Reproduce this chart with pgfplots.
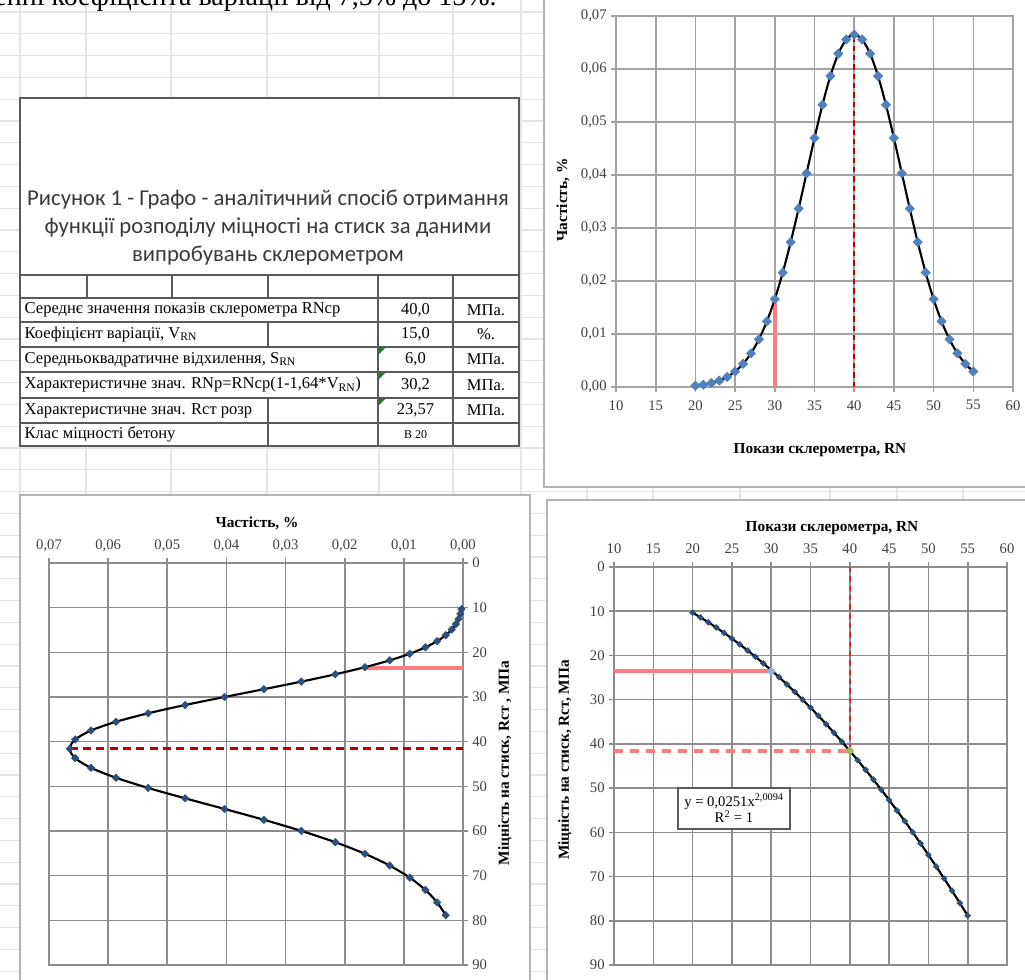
\documentclass[border=0pt]{standalone}
\usepackage{fontspec}
\setmainfont{Liberation Serif}
\newfontfamily\calibri{Carlito}
\usepackage{pgfplots}
\usepackage{pgfplotstable}
\pgfplotsset{compat=1.18}

\definecolor{exg}{HTML}{E4E4E4}
\definecolor{cbord}{HTML}{B4B4B4}
\definecolor{gridA}{HTML}{A3A3A3}
\definecolor{gridB}{HTML}{8C8C8C}
\definecolor{mblue}{HTML}{4F81BD}
\definecolor{dblue}{HTML}{2C4F7C}
\definecolor{salmon}{HTML}{FF7C80}
\definecolor{dred}{HTML}{C00000}
\definecolor{rred}{HTML}{E02828}
\definecolor{tline}{HTML}{5A5A5A}
\definecolor{ttl}{HTML}{3A3A3A}
\definecolor{tickc}{HTML}{404040}
\definecolor{xlgreen}{HTML}{1E7B1E}
\definecolor{lgreen}{HTML}{9BBB59}
\definecolor{lblue}{HTML}{8EB4E3}

\pgfplotstableread{
rn f r
20 0.000257 10.327
21 0.000442 11.390
22 0.000739 12.507
23 0.001201 13.675
24 0.001899 14.896
25 0.002921 16.169
26 0.004370 17.495
27 0.006358 18.874
28 0.008998 20.305
29 0.012385 21.788
30 0.016580 23.324
31 0.021586 24.913
32 0.027335 26.554
33 0.033666 28.247
34 0.040328 29.994
35 0.046985 31.792
36 0.053241 33.644
37 0.058678 35.548
38 0.062897 37.505
39 0.065573 39.515
40 0.066490 41.577
41 0.065573 43.692
42 0.062897 45.860
43 0.058678 48.080
44 0.053241 50.353
45 0.046985 52.679
46 0.040328 55.058
47 0.033666 57.489
48 0.027335 59.973
49 0.021586 62.511
50 0.016580 65.100
51 0.012385 67.743
52 0.008998 70.439
53 0.006358 73.187
54 0.004370 75.988
55 0.002921 78.842
}\data

\pgfplotsset{
  xlchart/.style={
    scale only axis, anchor=center,
    grid=major, scaled ticks=false,
    tick align=outside, major tick length=3.5pt,
    ticklabel style={font=\fontsize{11}{13}\selectfont, text=tickc},
    /pgf/number format/assume math mode=true,
    /pgf/number format/use comma,
    major grid style={#1, line width=1.2pt},
    axis line style={#1, line width=1.2pt},
    tick style={#1, line width=1.2pt},
  },
  freqlabels/.style={/pgf/number format/.cd, fixed, fixed zerofill, precision=2, use comma},
}

\begin{document}
\begin{tikzpicture}[x=0.75pt, y=-0.75pt]
\useasboundingbox (0,0) rectangle (1025,979);

% ---- Excel background grid
\foreach \k in {0,...,44} \draw[exg, line width=0.8pt] (0,{12+21.8*\k}) -- (1025,{12+21.8*\k});
\foreach \xx in {20,86,171,267,379,453,521,587,653,740,830,897,963} \draw[exg, line width=0.8pt] (\xx,0) -- (\xx,979);

% ---- cut text at very top (continuation of the page text)
\node[anchor=base east, inner sep=0pt, font=\fontsize{21}{24}\selectfont] at (497,5.5) {значенні коефіцієнта варіації від 7,5\% до 15\%.};

% ---- boxes
\draw[tline, line width=1.3pt, fill=white] (20,98) rectangle (519,446);
\draw[cbord, line width=1.5pt, fill=white] (544,-20) rectangle (1045,487);
\draw[cbord, line width=1.5pt, fill=white] (20,495) rectangle (530,1000);
\draw[cbord, line width=1.5pt, fill=white] (547,500) rectangle (1045,1000);

% ---- table
\begin{scope}[font=\calibri\fontsize{17}{20}\selectfont, text=ttl]
\node at (268,200) {Рисунок 1 - Графо - аналітичний спосіб отримання};
\node at (268,228) {функції розподілу міцності на стиск за даними};
\node at (268,256) {випробувань склерометром};
\end{scope}
\foreach \yy in {275,298,322,347,372,398,423} \draw[tline, line width=0.8pt] (20,\yy) -- (519,\yy);
\foreach \xx in {87,172,268} \draw[tline, line width=0.8pt] (\xx,275) -- (\xx,298);
\foreach \xx in {378,453} \draw[tline, line width=0.8pt] (\xx,275) -- (\xx,446);
\draw[tline, line width=0.8pt] (268,322) -- (268,347);
\draw[tline, line width=0.8pt] (268,398) -- (268,446);
\foreach \yy in {347,372,398} \fill[xlgreen] (379,{\yy+1}) -- (385,{\yy+1}) -- (379,{\yy+7}) -- cycle;
\begin{scope}[font=\fontsize{12.4}{14}\selectfont]
\node[anchor=west] at (20,310) {Середнє значення показів склерометра RNср};
\node[anchor=west] at (20,334.5) {Коефіцієнт варіації, V\textsubscript{RN}};
\node[anchor=west] at (20,359.5) {Середньоквадратичне відхилення, S\textsubscript{RN}};
\node[anchor=west] at (20,385) {Характеристичне знач. RNр=RNср(1-1,64*V\textsubscript{RN})};
\node[anchor=west] at (20,410.5) {Характеристичне знач. Rст розр};
\node[anchor=west] at (20,434.5) {Клас міцності бетону};
\node at (415.5,310) {40,0};
\node at (415.5,334.5) {15,0};
\node at (415.5,359.5) {6,0};
\node at (415.5,385) {30,2};
\node at (415.5,410.5) {23,57};
\node[font=\fontsize{9}{10}\selectfont] at (415.5,434.5) {В 20};
\node at (486,310) {МПа.};
\node at (486,334.5) {\%.};
\node at (486,359.5) {МПа.};
\node at (486,385) {МПа.};
\node at (486,410.5) {МПа.};
\end{scope}

% ---- anchors for axes
\coordinate (TR) at (814.5,201.5);
\coordinate (BL) at (256,764);
\coordinate (BR) at (810.5,766);

% ---- top-right chart
\begin{axis}[xlchart=gridA, at={(TR)}, width=297.75pt, height=278.25pt,
  xmin=10, xmax=60, ymin=0, ymax=0.07,
  xtick={10,15,20,25,30,35,40,45,50,55,60},
  ytick={0,0.01,0.02,0.03,0.04,0.05,0.06,0.07},
  yticklabel style={freqlabels},
  xticklabel style={yshift=-3pt},
  xtick pos=left, ytick pos=left]
\addplot[salmon, line width=3pt, forget plot] coordinates {(30,0) (30,0.01658)};
\addplot[dred, line width=1.2pt, dash pattern=on 4pt off 3pt] coordinates {(40,0) (40,0.06649)};
\addplot[only marks, mark=diamond*, mark size=3.5pt, mark options={xscale=1.33, fill=mblue, draw=mblue}] table[x=rn,y=f]{\data};
\addplot[black, line width=1.6pt, smooth, no markers] table[x=rn,y=f]{\data};
\end{axis}

% ---- bottom-left chart
\begin{axis}[xlchart=gridB, at={(BL)}, width=310.5pt, height=301.5pt,
  x dir=reverse, y dir=reverse,
  xmin=0, xmax=0.07, ymin=0, ymax=90,
  xtick={0,0.01,0.02,0.03,0.04,0.05,0.06,0.07},
  ytick={0,10,20,30,40,50,60,70,80,90},
  xticklabel style={yshift=1.5pt, freqlabels},
  xticklabel pos=right, yticklabel pos=right,
  xtick pos=right, ytick pos=right]
\addplot[salmon, line width=3pt] coordinates {(0.01658,23.57) (0,23.57)};
\addplot[dred, line width=2pt, dash pattern=on 6pt off 4pt] coordinates {(0.06649,41.577) (0,41.577)};
\addplot[only marks, mark=diamond*, mark size=2.8pt, mark options={xscale=1.33, fill=dblue, draw=dblue}] table[x=f,y=r]{\data};
\addplot[black, line width=1.6pt, smooth, no markers] table[x=f,y=r]{\data};
\end{axis}

% ---- bottom-right chart
\begin{axis}[xlchart=gridB, at={(BR)}, width=294.75pt, height=298.5pt,
  y dir=reverse,
  xmin=10, xmax=60, ymin=0, ymax=90,
  xtick={10,15,20,25,30,35,40,45,50,55,60},
  ytick={0,10,20,30,40,50,60,70,80,90},
  xticklabel style={yshift=3pt},
  xticklabel pos=right, xtick pos=right, ytick pos=left]
\addplot[salmon, line width=3pt] coordinates {(10,23.57) (30,23.57)};
\addplot[salmon, line width=3pt, dash pattern=on 7pt off 5pt] coordinates {(10,41.577) (40,41.577)};
\addplot[rred, line width=1.2pt, dash pattern=on 4pt off 3pt] coordinates {(40,0) (40,41.577)};
\addplot[only marks, mark=diamond*, mark size=2.2pt, mark options={xscale=1.33, fill=dblue, draw=dblue}] table[x=rn,y=r]{\data};
\addplot[black, line width=1.6pt, smooth, no markers] table[x=rn,y=r]{\data};
\addplot[only marks, mark=diamond*, mark size=3pt, mark options={xscale=1.33, fill=lgreen, draw=lgreen}] coordinates {(40,41.577)};
\addplot[only marks, mark=diamond*, mark size=3pt, mark options={xscale=1.33, fill=lblue, draw=lblue}] coordinates {(30,23.57)};
\end{axis}

% ---- equation box
\node[draw=tline, line width=0.8pt, fill=white, minimum width=84pt, minimum height=30.75pt, align=center, inner sep=1pt, font=\fontsize{11}{12.5}\selectfont] at (734,808.5) {y = 0,0251x\textsuperscript{2,0094}\\R\textsuperscript{2} = 1};

% ---- axis titles
\begin{scope}[font=\bfseries\fontsize{11.5}{13}\selectfont]
\node at (820,450) {Покази склерометра, RN};
\node[rotate=90] at (563,200) {Частість, \%};
\node at (257,523) {Частість, \%};
\node[rotate=90] at (505,763) {Міцність на стиск, Rст , МПа};
\node at (832,528) {Покази склерометра, RN};
\node[rotate=90] at (565,760) {Міцність на стиск, Rст, МПа};
\end{scope}
\end{tikzpicture}
\end{document}
